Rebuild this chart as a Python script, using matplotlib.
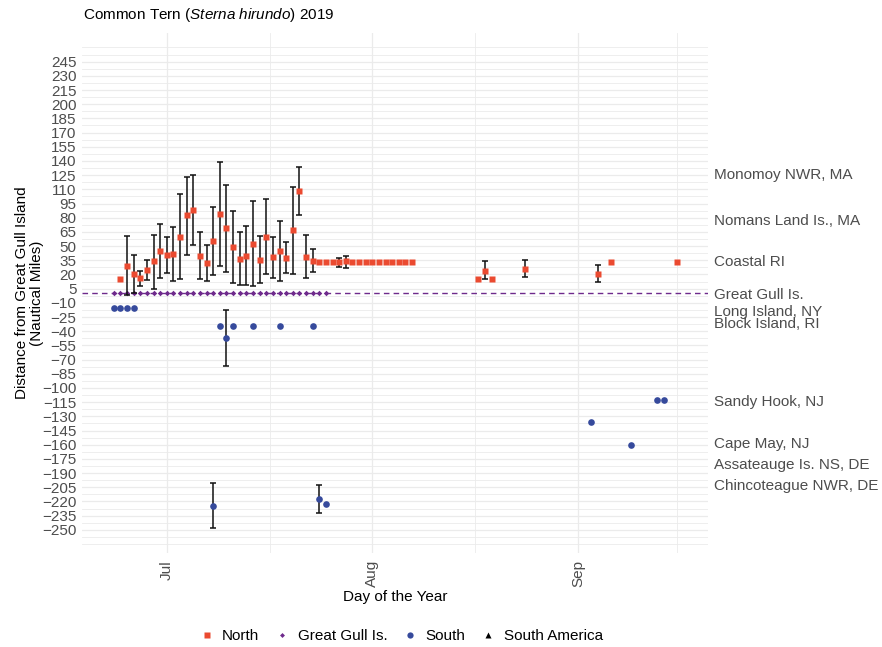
import numpy as np
import matplotlib
matplotlib.use('Agg')
import matplotlib.pyplot as plt
import matplotlib.dates as mdates
from matplotlib.lines import Line2D

plt.rcParams['font.family'] = ['Liberation Sans', 'DejaVu Sans']
plt.rcParams['mathtext.fontset'] = 'custom'
plt.rcParams['mathtext.rm'] = 'Liberation Sans'
plt.rcParams['mathtext.it'] = 'Liberation Sans:italic'

nan = np.nan

# North birds (mean distance and range per day)
north_days = ['06-24', '06-25', '06-26', '06-27', '06-28', '06-29', '06-30',
              '07-01', '07-02', '07-03', '07-04', '07-05', '07-06', '07-07', '07-08', '07-09', '07-10',
              '07-11', '07-12', '07-13', '07-14', '07-15', '07-16', '07-17', '07-18', '07-19', '07-20',
              '07-21', '07-22', '07-23', '07-24', '07-25', '07-26', '07-27', '07-28', '07-29', '07-30',
              '07-31', '08-01', '08-02', '08-03', '08-04', '08-05', '08-06', '08-07',
              '08-17', '08-18', '08-19', '08-24', '09-04', '09-06', '09-16']
north_mid = [15, 29, 21, 16, 25, 34, 45,
             40.5, 42, 60, 82.5, 88.5, 40, 32.5, 55, 84, 69,
             49.5, 36.5, 40, 52.5, 35.5, 60, 38, 45, 37, 66.5,
             108, 38.5, 34.5, 33, 33, 33, 33, 34, 33, 33,
             33, 33, 33, 33, 33, 33, 33, 33,
             15, 24, 15, 25.5, 21, 33.5, 33.5]
north_lo = [nan, -1.5, 0, 8, 14.5, 5, 16.5,
            21.5, 13.5, 15.5, 41, 51.5, 15.5, 13.5, 19.5, 28.5, 23,
            11.5, 8.5, 9, 7.5, 10.5, 20.5, 16.5, 13, 21.5, 21,
            82.5, 16, 22.5, nan, nan, nan, 28, 27, nan, nan,
            nan, nan, nan, nan, nan, nan, nan, nan,
            nan, 15, nan, 17, 12.5, nan, nan]
north_hi = [nan, 61, 40.5, 24, 35.5, 62, 73,
            60, 70.5, 105.5, 123.5, 125, 64.5, 51, 91, 139, 114.5,
            87.5, 65, 71, 97.5, 60.5, 100, 59.5, 77, 54.5, 113,
            133.5, 61.5, 46.5, nan, nan, nan, 37.5, 40, nan, nan,
            nan, nan, nan, nan, nan, nan, nan, nan,
            nan, 34, nan, 35, 29.5, nan, nan]

# birds at Great Gull Island
gull_days = ['06-23', '06-24', '06-25', '06-26', '06-27', '06-28', '06-29', '06-30',
             '07-01', '07-02', '07-03', '07-04', '07-05', '07-06', '07-07', '07-08', '07-09', '07-10',
             '07-11', '07-12', '07-13', '07-14', '07-15', '07-16', '07-17', '07-18', '07-19', '07-20',
             '07-21', '07-22', '07-23', '07-24', '07-25']
gull_mid = [0] * len(gull_days)

# South birds
south_days = ['06-23', '06-24', '06-25', '06-26', '07-08', '07-09', '07-10', '07-11', '07-14',
              '07-18', '07-23', '07-24', '07-25', '09-03', '09-09', '09-13', '09-14']
south_mid = [-15, -15, -15, -15, -224.5, -34, -47, -34, -34,
             -34, -34, -217, -223, -136, -160, -113, -113]
south_lo = [nan, nan, nan, nan, -248, nan, -76.5, nan, nan,
            nan, nan, -232, nan, nan, nan, nan, nan]
south_hi = [nan, nan, nan, nan, -201, nan, -17.5, nan, nan,
            nan, nan, -203, nan, nan, nan, nan, nan]

site_names = ['Monomoy NWR, MA', 'Nomans Land Is., MA', 'Coastal RI', 'Great Gull Is.',
              'Long Island, NY', 'Block Island, RI', 'Sandy Hook, NJ', 'Cape May, NJ',
              'Assateauge Is. NS, DE', 'Chincoteague NWR, DE']
site_dist = [127, 78, 34.5, 0, -18, -31, -113, -158, -180, -202]

red = '#EB4A30'
purple = '#6E2A8C'
blue = '#364A9C'
grey = '#4D4D4D'


def to_dates(days):
    return np.array(['2019-' + d for d in days], dtype='datetime64[D]')


fig = plt.figure(figsize=(8.82, 6.47), dpi=100)
ax = fig.add_axes([82 / 882, 1 - 553 / 647, 626 / 882, 520 / 647])

ax.axhline(0, color=purple, lw=1.0, ls=(0, (4, 3)), zorder=2)

nd = to_dates(north_days)
ax.plot(nd, north_mid, 's', color=red, ms=4.6, mec='none', zorder=5)
nmid = np.array(north_mid, float)
nlo = np.array(north_lo, float)
nhi = np.array(north_hi, float)
m = ~np.isnan(nlo)
ax.errorbar(nd[m], nmid[m], yerr=[nmid[m] - nlo[m], nhi[m] - nmid[m]], fmt='none',
            ecolor='#111111', elinewidth=1.1, capsize=2, capthick=1.1, zorder=4)

gd = to_dates(gull_days)
ax.plot(gd, gull_mid, 'D', color=purple, ms=2.8, mec='none', zorder=3)

sd = to_dates(south_days)
ax.plot(sd, south_mid, 'o', color=blue, ms=4.8, mec='none', zorder=5)
smid = np.array(south_mid, float)
slo = np.array(south_lo, float)
shi = np.array(south_hi, float)
m = ~np.isnan(slo)
ax.errorbar(sd[m], smid[m], yerr=[smid[m] - slo[m], shi[m] - smid[m]], fmt='none',
            ecolor='#111111', elinewidth=1.1, capsize=2, capthick=1.1, zorder=4)

# axes
ax.set_ylim(-274.5, 275.3)
ax.set_xlim(np.datetime64('2019-06-18T05:00'), np.datetime64('2019-09-20T15:00'))
ax.set_yticks(np.arange(-250, 246, 15))
ax.set_yticks(np.arange(-265, 261, 7.5), minor=True)
ax.xaxis.set_major_locator(mdates.MonthLocator())
ax.xaxis.set_major_formatter(mdates.DateFormatter('%b'))
ax.set_xticks([np.datetime64('2019-07-16T12:00'), np.datetime64('2019-08-16T12:00'),
               np.datetime64('2019-09-16T00:00')], minor=True)
ax.grid(which='major', color='#EBEBEB', lw=0.9)
ax.grid(which='minor', color='#EBEBEB', lw=0.6)
ax.set_axisbelow(True)
for s in ax.spines.values():
    s.set_visible(False)
ax.tick_params(which='both', length=0)
ax.tick_params(axis='y', labelsize=11, labelcolor=grey, pad=4)
ax.tick_params(axis='x', labelsize=11, labelcolor=grey, pad=5, labelrotation=90)

ax.set_xlabel('Day of the Year', fontsize=11, labelpad=2)
ax.set_ylabel('Distance from Great Gull Island\n(Nautical Miles)', fontsize=11,
              multialignment='center', linespacing=1.1)
ax.yaxis.set_label_coords(-0.061, 0.5)

sec = ax.secondary_yaxis('right')
sec.set_yticks(site_dist, labels=site_names)
sec.tick_params(length=0, pad=4, labelsize=11, labelcolor=grey)
sec.spines['right'].set_visible(False)

fig.text(83 / 882, 1 - 15 / 647, 'Common Tern ($\\mathit{Sterna\\ hirundo}$) 2019',
         fontsize=11, ha='left', va='center')

handles = [Line2D([], [], ls='none', marker='s', color=red, ms=4, mec='none'),
           Line2D([], [], ls='none', marker='D', color=purple, ms=2.5, mec='none'),
           Line2D([], [], ls='none', marker='o', color=blue, ms=4.5, mec='none'),
           Line2D([], [], ls='none', marker='^', color='black', ms=4.5, mec='none')]
fig.legend(handles, ['North', 'Great Gull Is.', 'South', 'South America'],
           loc='center', bbox_to_anchor=(401 / 882, 1 - 636 / 647), ncol=4, frameon=False,
           fontsize=11, handlelength=1.0, handletextpad=0.5, columnspacing=1.0)

fig.savefig('out.png', dpi=100)
